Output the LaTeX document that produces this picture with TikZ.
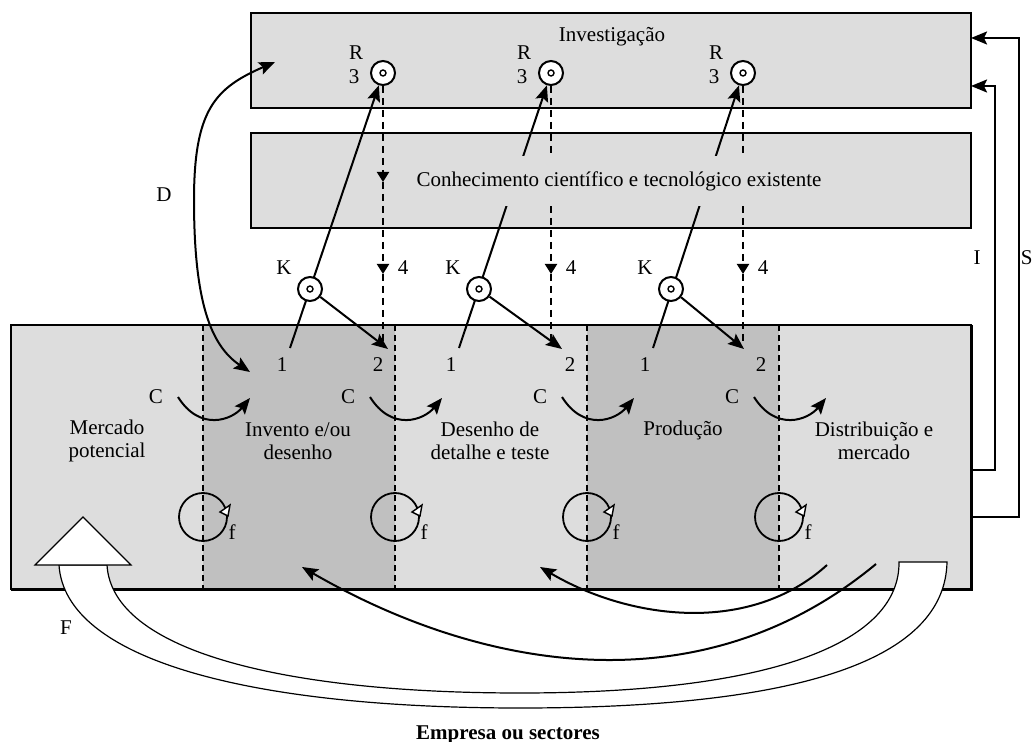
\documentclass[tikz,border=0pt]{standalone}
\usepackage{fontspec}
\setmainfont{Liberation Serif}
\usetikzlibrary{arrows.meta}
\definecolor{paleg}{RGB}{221,221,221}
\definecolor{darkg}{RGB}{192,192,192}
\begin{document}
\begin{tikzpicture}[x=0.5pt,y=-0.5pt,>={Stealth[length=8pt,width=6.5pt,inset=1.5pt]},
	every node/.style={font=\fontsize{10.5}{11.5}\selectfont,inner sep=1pt},
	panel/.style={draw,line width=1pt,fill=paleg},
	hub/.style={circle,draw,fill=white,line width=1pt,minimum size=12pt,inner sep=0pt,
		path picture={\draw[line width=0.7pt] (path picture bounding box.center) circle (1.5pt);}},
	link/.style={line width=1pt},
	feed/.style={circle,draw,line width=0.9pt,minimum size=24pt,inner sep=0pt},
	dashfour/.style={line width=1pt,dash pattern=on 3.5pt off 2.5pt},
	sep/.style={line width=0.7pt,dash pattern=on 3pt off 2pt}]
	\useasboundingbox (0,0) rectangle (1032,742);
	\draw[panel] (251,13) rectangle (971,108);
	\draw[panel] (251,133) rectangle (971,228);
	\draw[panel] (11,325) rectangle (971,589);
	\fill[darkg] (203,325) rectangle (395,589);
	\fill[darkg] (587,325) rectangle (779,589);
	\draw[line width=1pt] (11,325) rectangle (971,589);
	\draw[line width=1.4pt] (11,589.5) -- (971.5,589.5) -- (971.5,325);
	\foreach \x in {203,395,587,779} \draw[sep] (\x,325) -- (\x,589);
	\node (inv) at (612,37) {Investigação};
	\foreach \i/\rx/\kx/\ax/\tx/\dx in {1/383/310/290/388/378,2/551/479/459/562/570,3/743/671/653/744/761}{
		\node[hub] (r\i) at (\rx,73) {};
		\node (rl\i) at (\rx-27,53) {R};
		\node (rn\i) at (\rx-29,77) {3};
		\coordinate (a\i) at (\ax,348);
		\coordinate (t\i) at (\tx,349);
		\draw[link,->] (a\i) -- (r\i);
		\draw[dashfour,-{Triangle[length=5pt,width=6pt]}] (r\i) -- (\rx,182);
		\draw[dashfour,-{Triangle[length=5pt,width=6pt]}] (\rx,182) -- (\rx,274);
		\draw[dashfour] (\rx,274) -- (\rx,345);
		\node[hub] (k\i) at (\kx,289) {};
		\node (kl\i) at (\kx-26,268) {K};
		\node (fo\i) at (\rx+20,268) {4};
		\draw[link,->] (k\i) -- (t\i);
		\node (on\i) at (\ax-8,365) {1};
		\node (tw\i) at (\dx,365) {2};
	}
	\node[fill=paleg,minimum height=25pt,inner xsep=3pt] (know) at (619,181) {Conhecimento científico e tecnológico existente};
	\foreach \j/\cx in {1/156,2/348,3/540,4/732}{
		\node (c\j) at (\cx,397) {C};
		\coordinate (cs\j) at (\cx+22,397);
		\coordinate (ce\j) at (\cx+94,398);
		\draw[link,->] (cs\j) .. controls (\cx+44,432) and (\cx+76,420) .. (ce\j);
	}
	\node[align=center] (mkt) at (107,441) {Mercado\\potencial};
	\node[align=center] (dsg) at (298,441) {Invento e/ou\\desenho};
	\node[align=center] (tst) at (490,441) {Desenho de\\detalhe e teste};
	\node (prd) at (683,430) {Produção};
	\node[align=center] (dst) at (874,441) {Distribuição e\\mercado};
	\foreach \j/\fx in {1/203,2/395,3/587,4/779}{
		\node[feed] (f\j) at (\fx,517) {};
		\draw[line width=0.7pt,fill=white] (\fx+17,512) -- (\fx+27,505) -- (\fx+25,516) -- cycle;
		\node (fl\j) at (\fx+29,532) {f};
	}
	\draw[line width=0.6pt,fill=white] (59,565) .. controls (65,660) and (250,708) .. (520,708) .. controls (800,708) and (945,660) .. (947,562) -- (899,562) .. controls (900,640) and (780,693) .. (520,693) .. controls (280,693) and (112,650) .. (107,565) -- cycle;
	\draw[line width=0.6pt,fill=white] (35,565) -- (83,517) -- (131,565) -- cycle;
	\coordinate (fa) at (827,565);
	\coordinate (fb) at (540,567);
	\draw[link,->] (fa) .. controls (750,635) and (630,620) .. (fb);
	\coordinate (ga) at (876,564);
	\coordinate (gb) at (302,567);
	\draw[link,->] (ga) .. controls (700,710) and (480,670) .. (gb);
	\coordinate (dt) at (275,62);
	\coordinate (db) at (250,372);
	\draw[link,<->] (dt) .. controls (215,88) and (194,110) .. (194,200) .. controls (194,300) and (210,345) .. (db);
	\node (dl) at (164,195) {D};
	\coordinate (iout) at (971,470);
	\coordinate (iin) at (971,86);
	\draw[link,->] (iout) -- (995,470) -- (995,86) -- (iin);
	\coordinate (sout) at (971,517);
	\coordinate (sin) at (971,38);
	\draw[link,->] (sout) -- (1019,517) -- (1019,38) -- (sin);
	\node (il) at (977,258) {I};
	\node[anchor=west,inner sep=0pt] (sl) at (1020.5,258) {S};
	\node (fl) at (66,628) {F};
	\node[anchor=base,font=\fontsize{10.5}{11.5}\selectfont\bfseries] (emp) at (508,739) {Empresa ou sectores};
\end{tikzpicture}
\end{document}
